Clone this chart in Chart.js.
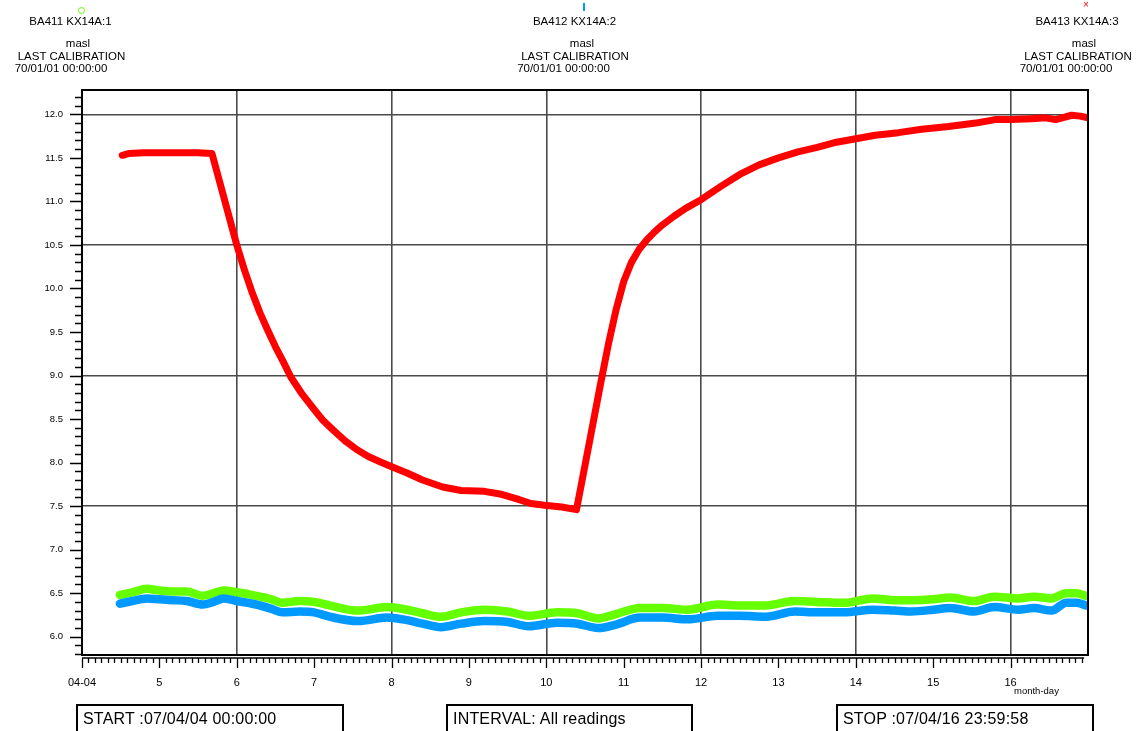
<!DOCTYPE html>
<html>
<head>
<meta charset="utf-8">
<script src="https://cdn.jsdelivr.net/npm/chart.js@4.4.1/dist/chart.umd.min.js"></script>
<style>
  html, body { margin: 0; padding: 0; background: #fff; }
  #wrap { position: relative; width: 1138px; height: 731px; overflow: hidden;
          font-family: 'Liberation Sans', Arial, Helvetica, sans-serif; color: #000; }
  #chart { position: absolute; left: 0; top: 0; }
  .hd { position: absolute; font-size: 11.5px; line-height: 12px; white-space: nowrap;
        transform: translateX(-50%); }
  .box { position: absolute; top: 704px; height: 36px; border: 2px solid #000;
         box-sizing: border-box; font-size: 16px; letter-spacing: 0.2px; line-height: 26px;
         padding-left: 5px; white-space: nowrap; }
  #unit { position: absolute; left: 1014px; top: 686px; font-size: 9.5px; line-height: 10px; }
</style>
</head>
<body>
<div id="wrap">
  <canvas id="chart" width="1138" height="731"></canvas>
  <div id="header"></div>
  <div id="unit">month-day</div>
  <div class="box" style="left:76px;width:268px;">START :07/04/04 00:00:00</div>
  <div class="box" style="left:446px;width:247px;">INTERVAL: All readings</div>
  <div class="box" style="left:836px;width:258px;">STOP :07/04/16 23:59:58</div>
</div>
<script>
// Sensor names, units and calibration stamps
const seriesNames = ['BA411 KX14A:1', 'BA412 KX14A:2', 'BA413 KX14A:3'];
const seriesUnits = ['masl', 'masl', 'masl'];
const calibrationStamps = ['70/01/01 00:00:00', '70/01/01 00:00:00', '70/01/01 00:00:00'];

// Time axis: day of April 2007
const dayTicks  = [4, 5, 6, 7, 8, 9, 10, 11, 12, 13, 14, 15, 16];
const dayLabels = ['04-04', '5', '6', '7', '8', '9', '10', '11', '12', '13', '14', '15', '16'];
const yTicks = [6.0, 6.5, 7.0, 7.5, 8.0, 8.5, 9.0, 9.5, 10.0, 10.5, 11.0, 11.5, 12.0];
const yTickLabels = ['6.0', '6.5', '7.0', '7.5', '8.0', '8.5', '9.0', '9.5', '10.0', '10.5', '11.0', '11.5', '12.0'];

// BA411 and BA412 readings (masl)
const lowDays = [4.49, 4.65, 4.84, 5.0, 5.17, 5.35, 5.56, 5.7, 5.83, 6.0, 6.25, 6.45, 6.59, 6.81, 7.0,
  7.2, 7.57, 7.94, 8.2, 8.4, 8.64, 8.9, 9.2, 9.5, 9.77, 10.14, 10.4, 10.67, 10.9, 11.21, 11.5,
  11.83, 12.21, 12.5, 12.84, 13.21, 13.5, 13.85, 14.22, 14.5, 14.72, 15.0, 15.22, 15.53, 15.79,
  16.1, 16.3, 16.53, 16.72, 16.85, 16.97];
const ba411 = [6.48, 6.51, 6.55, 6.53, 6.52, 6.52, 6.47, 6.50, 6.53, 6.51, 6.47, 6.43, 6.39, 6.41, 6.40,
  6.36, 6.30, 6.34, 6.31, 6.27, 6.23, 6.28, 6.31, 6.29, 6.24, 6.28, 6.27, 6.21, 6.26, 6.33, 6.33,
  6.31, 6.37, 6.36, 6.36, 6.41, 6.40, 6.39, 6.44, 6.42, 6.42, 6.43, 6.45, 6.41, 6.46,
  6.44, 6.46, 6.44, 6.50, 6.50, 6.47];
const ba412 = [6.38, 6.41, 6.44, 6.43, 6.42, 6.41, 6.37, 6.40, 6.44, 6.41, 6.37, 6.32, 6.28, 6.29, 6.28,
  6.23, 6.18, 6.22, 6.19, 6.15, 6.11, 6.15, 6.18, 6.17, 6.12, 6.16, 6.15, 6.10, 6.14, 6.22, 6.22,
  6.20, 6.24, 6.24, 6.23, 6.29, 6.28, 6.28, 6.31, 6.30, 6.29, 6.31, 6.33, 6.29, 6.34,
  6.31, 6.33, 6.30, 6.39, 6.39, 6.36];

// BA413 readings (masl)
const ba413Days = [4.52, 4.6, 4.8, 5.2, 5.5, 5.68, 6.0, 6.1, 6.2, 6.3, 6.4, 6.5, 6.6, 6.7, 6.85,
  7.0, 7.11, 7.25, 7.4, 7.55, 7.7, 7.85, 7.98, 8.2, 8.4, 8.66, 8.9, 9.2, 9.4, 9.63, 9.8, 9.98,
  10.2, 10.39, 10.55, 10.7, 10.8, 10.9, 11.0, 11.1, 11.2, 11.3, 11.4, 11.5, 11.65, 11.8, 12.0,
  12.25, 12.5, 12.75, 13.0, 13.25, 13.5, 13.75, 14.0, 14.25, 14.55, 14.85, 15.2, 15.55, 15.8,
  16.0, 16.27, 16.45, 16.58, 16.79, 16.9, 17.0];
const ba413 = [11.53, 11.55, 11.56, 11.56, 11.56, 11.55, 10.5, 10.21, 9.95, 9.72, 9.52, 9.33, 9.16, 8.98, 8.78,
  8.61, 8.49, 8.37, 8.25, 8.15, 8.07, 8.01, 7.96, 7.88, 7.80, 7.72, 7.68, 7.67, 7.64, 7.58, 7.53, 7.51,
  7.49, 7.46, 8.20, 8.90, 9.35, 9.75, 10.08, 10.30, 10.45, 10.56, 10.65, 10.73, 10.83, 10.92, 11.02,
  11.17, 11.31, 11.42, 11.50, 11.57, 11.62, 11.68, 11.72, 11.76, 11.79, 11.83, 11.86, 11.90, 11.94,
  11.94, 11.95, 11.96, 11.94, 11.99, 11.98, 11.96];

const seriesColors = ['#66ff00', '#0099ff', '#ff0000'];
const majorGridDays = [6, 8, 10, 12, 14, 16];
const majorGridLevels = [7.5, 9.0, 10.5, 12.0];
const FONT = "'Liberation Sans', Arial, Helvetica, sans-serif";

// Header blocks above the plot, one per sensor
const headerCenters = [
  { name: 70.5, unit: 78, cal: 71.5, stamp: 61 },
  { name: 574.5, unit: 582, cal: 575, stamp: 563.5 },
  { name: 1077, unit: 1084, cal: 1078, stamp: 1066 }
];
const header = document.getElementById('header');
function addText(txt, x, y) {
  const d = document.createElement('div');
  d.className = 'hd';
  d.textContent = txt;
  d.style.left = x + 'px';
  d.style.top = (y - 6) + 'px';
  header.appendChild(d);
}
seriesNames.forEach((n, i) => {
  const c = headerCenters[i];
  addText(n, c.name, 21);
  addText(seriesUnits[i], c.unit, 43);
  addText('LAST CALIBRATION', c.cal, 56);
  addText(calibrationStamps[i], c.stamp, 68);
});
// series symbols
(function () {
  const o = document.createElement('div');
  o.style.cssText = 'position:absolute;left:78px;top:7px;width:5px;height:5px;border:1px solid ' +
    seriesColors[0] + ';border-radius:50%;';
  header.appendChild(o);
  const t = document.createElement('div');
  t.style.cssText = 'position:absolute;left:583px;top:3px;width:2px;height:8px;background:' + seriesColors[1] + ';';
  header.appendChild(t);
  const x = document.createElement('div');
  x.style.cssText = 'position:absolute;left:1083px;top:0px;font-size:10px;line-height:10px;color:' + seriesColors[2] + ';';
  x.textContent = '\u00d7';
  header.appendChild(x);
})();

const pts = (xs, ys) => xs.map((x, i) => ({ x: x, y: ys[i] }));

// Frame around the plot plus the tick rows on the value and time axes
const frameTicks = {
  id: 'frameTicks',
  afterDraw(chart) {
    const { ctx, chartArea: a, scales } = chart;
    const ys = scales.y, xs = scales.x;
    ctx.save();
    ctx.strokeStyle = '#000';
    ctx.lineWidth = 1.3;
    ctx.beginPath();
    for (let k = Math.ceil(ys.min * 10); k <= Math.floor(ys.max * 10); k++) {
      const v = k / 10;
      const py = Math.round(ys.getPixelForValue(v)) + 0.5;
      const major = k % 5 === 0;
      ctx.moveTo(a.left - (major ? 12 : 7), py);
      ctx.lineTo(a.left, py);
    }
    ctx.stroke();
    const rowY = a.bottom + 3;
    ctx.beginPath();
    ctx.moveTo(a.left, rowY);
    ctx.lineTo(xs.getPixelForValue(16.95), rowY);
    for (let k = 4 * 12; k <= 16.95 * 12; k++) {
      const px = Math.round(xs.getPixelForValue(k / 12)) + 0.5;
      const major = k % 12 === 0;
      ctx.moveTo(px, rowY);
      ctx.lineTo(px, rowY + (major ? 10 : 5));
    }
    ctx.stroke();
    ctx.lineWidth = 2;
    ctx.strokeRect(a.left, a.top, a.right - a.left, a.bottom - a.top);
    ctx.restore();
  }
};

new Chart(document.getElementById('chart'), {
  type: 'line',
  data: {
    datasets: [
      { label: seriesNames[0], data: pts(lowDays, ba411), borderColor: seriesColors[0],
        borderWidth: 8.5, order: 2, cubicInterpolationMode: 'monotone' },
      { label: seriesNames[1], data: pts(lowDays, ba412), borderColor: seriesColors[1],
        borderWidth: 8.5, order: 1, cubicInterpolationMode: 'monotone' },
      { label: seriesNames[2], data: pts(ba413Days, ba413), borderColor: seriesColors[2],
        borderWidth: 7, order: 0, tension: 0 }
    ]
  },
  options: {
    responsive: false,
    animation: false,
    devicePixelRatio: 1,
    layout: { padding: { top: 90, right: 50, left: 0, bottom: 0 } },
    elements: {
      point: { radius: 0, hoverRadius: 0 },
      line: { borderCapStyle: 'round', borderJoinStyle: 'round', fill: false }
    },
    plugins: { legend: { display: false }, title: { display: false }, tooltip: { enabled: false } },
    scales: {
      x: {
        type: 'linear', min: 4, max: 17,
        afterBuildTicks: (s) => { s.ticks = dayTicks.map(v => ({ value: v })); },
        afterFit: (s) => { s.height = 76; },
        border: { display: false },
        grid: {
          drawTicks: false, lineWidth: 1.6,
          color: (c) => (c.tick && majorGridDays.includes(c.tick.value)) ? '#4a4a4a' : 'rgba(0,0,0,0)'
        },
        ticks: {
          autoSkip: false, maxRotation: 0, padding: 21, color: '#000',
          font: { family: FONT, size: 11 },
          callback: (v, i) => dayLabels[i]
        }
      },
      y: {
        type: 'linear', min: 5.79, max: 12.28,
        afterBuildTicks: (s) => { s.ticks = yTicks.map(v => ({ value: v })); },
        afterFit: (s) => { s.width = 82; },
        border: { display: false },
        grid: {
          drawTicks: false, lineWidth: 1.6,
          color: (c) => (c.tick && majorGridLevels.includes(c.tick.value)) ? '#4a4a4a' : 'rgba(0,0,0,0)'
        },
        ticks: {
          autoSkip: false, padding: 19, color: '#000',
          font: { family: FONT, size: 9.5 },
          callback: (v, i) => yTickLabels[i]
        }
      }
    }
  },
  plugins: [frameTicks]
});
</script>
</body>
</html>
